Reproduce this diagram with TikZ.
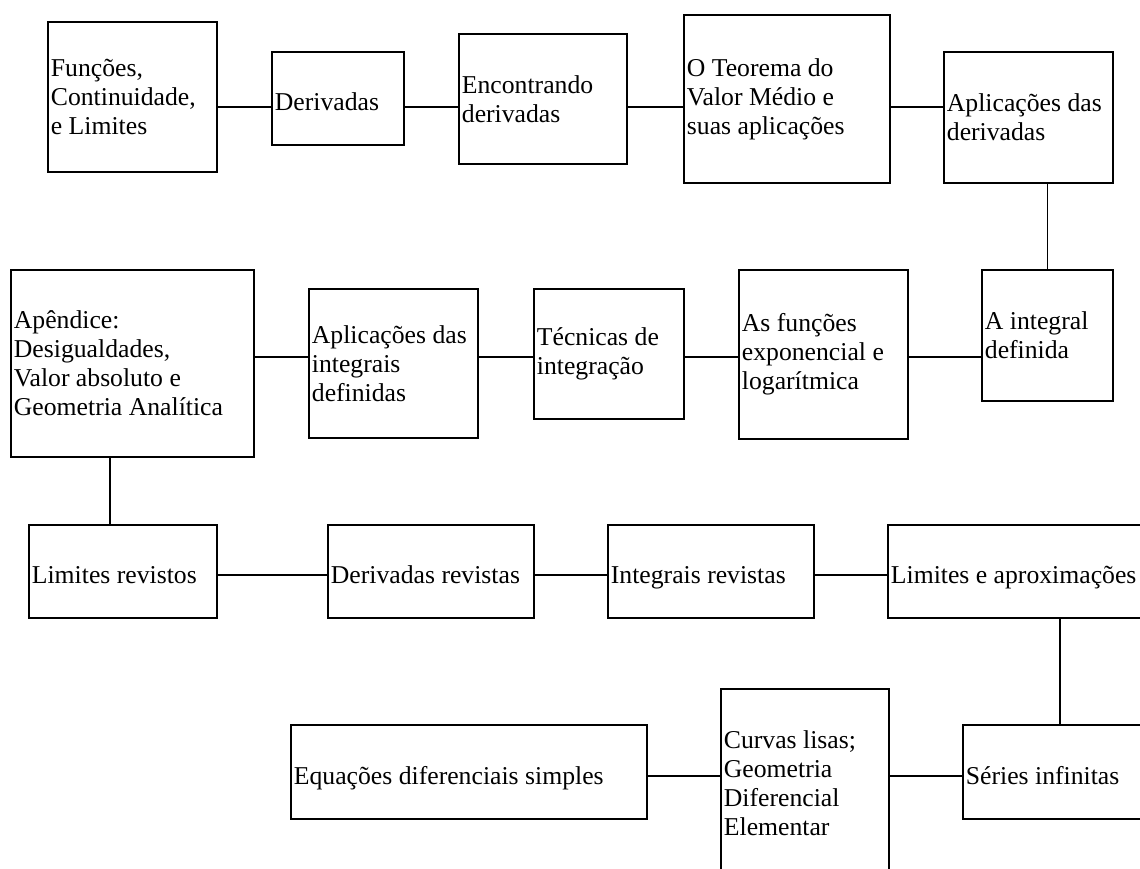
\documentclass[tikz,border=0pt]{standalone}
\usepackage{fontspec}
\setmainfont{Liberation Serif}
\usepackage{tikz}
\usetikzlibrary{positioning, calc}
\newcommand{\topicfont}{\fontsize{25.7}{29}\selectfont}
\tikzset{
  topic/.style={
    draw, line width=1.8pt, anchor=north west, align=flush left,
    inner xsep=3pt, inner ysep=0pt, font=\topicfont
  },
  oneline/.style={topic, text height=25pt, text depth=0pt},
  link/.style={line width=1.5pt}
}
\begin{document}
\begin{tikzpicture}[x=1pt, y=-1pt]
  \path[use as bounding box, clip] (0,0) rectangle (1140,868);
  \coordinate (rowA) at (0,107);
  \coordinate (rowB) at (0,357);
  \coordinate (rowC) at (0,575);
  \coordinate (rowD) at (0,776);

  \node[topic, text width=163pt, minimum height=150pt] (func) at (47,21) {Funções,\\Continuidade,\\e Limites};
  \node[oneline, text width=126pt, minimum height=93pt] (deriv) at (271,51) {Derivadas};
  \node[topic, text width=162pt, minimum height=130pt] (encder) at (458,33) {Encontrando\\derivadas};
  \node[topic, text width=200pt, minimum height=168pt] (tvm) at (683,14) {O Teorema do\\Valor Médio e\\suas aplicações};
  \node[topic, text width=163pt, minimum height=131pt] (appder) at (943,51) {Aplicações das\\derivadas};

  \node[topic, text width=125pt, minimum height=131pt] (aint) at (981,269) {A integral\\definida};
  \node[topic, text width=163pt, minimum height=169pt] (explog) at (738,269) {As funções\\exponencial e\\logarítmica};
  \node[topic, text width=144pt, minimum height=130pt] (tecint) at (533,288) {Técnicas de\\integração};
  \node[topic, text width=163pt, minimum height=149pt] (appint) at (308,288) {Aplicações das\\integrais\\definidas};
  \node[topic, text width=237pt, minimum height=187pt] (apend) at (10,269) {Apêndice:\\Desigualdades,\\Valor absoluto e\\Geometria Analítica};

  \node[oneline, text width=182pt, minimum height=93pt] (limrev) at (28,524) {Limites revistos};
  \node[oneline, text width=200pt, minimum height=93pt] (derrev) at (327,524) {Derivadas revistas};
  \node[oneline, text width=200pt, minimum height=93pt] (intrev) at (607,524) {Integrais revistas};
  \node[oneline, text width=264pt, minimum height=93pt] (limapr) at (887,524) {Limites e aproximações};

  \node[oneline, text width=188pt, minimum height=94pt] (series) at (962,724) {Séries infinitas};
  \node[topic, text width=162pt, minimum height=188pt] (curvas) at (720,688) {Curvas lisas;\\Geometria\\Diferencial\\Elementar};
  \node[oneline, text width=350pt, minimum height=94pt] (eqdif) at (290,724) {Equações diferenciais simples};

  \draw[link] (func.east |- rowA) -- (deriv.west |- rowA);
  \draw[link] (deriv.east |- rowA) -- (encder.west |- rowA);
  \draw[link] (encder.east |- rowA) -- (tvm.west |- rowA);
  \draw[link] (tvm.east |- rowA) -- (appder.west |- rowA);
  \draw[link] (appder.south -| aint.north) -- (aint.north);

  \draw[link] (aint.west |- rowB) -- (explog.east |- rowB);
  \draw[link] (explog.west |- rowB) -- (tecint.east |- rowB);
  \draw[link] (tecint.west |- rowB) -- (appint.east |- rowB);
  \draw[link] (appint.west |- rowB) -- (apend.east |- rowB);
  \draw[link] ([xshift=-13pt]limrev.north |- apend.south) -- ([xshift=-13pt]limrev.north);

  \draw[link] (limrev.east |- rowC) -- (derrev.west |- rowC);
  \draw[link] (derrev.east |- rowC) -- (intrev.west |- rowC);
  \draw[link] (intrev.east |- rowC) -- (limapr.west |- rowC);
  \draw[link] (series.north |- limapr.south) -- (series.north);

  \draw[link] (series.west |- rowD) -- (curvas.east |- rowD);
  \draw[link] (curvas.west |- rowD) -- (eqdif.east |- rowD);
\end{tikzpicture}
\end{document}
